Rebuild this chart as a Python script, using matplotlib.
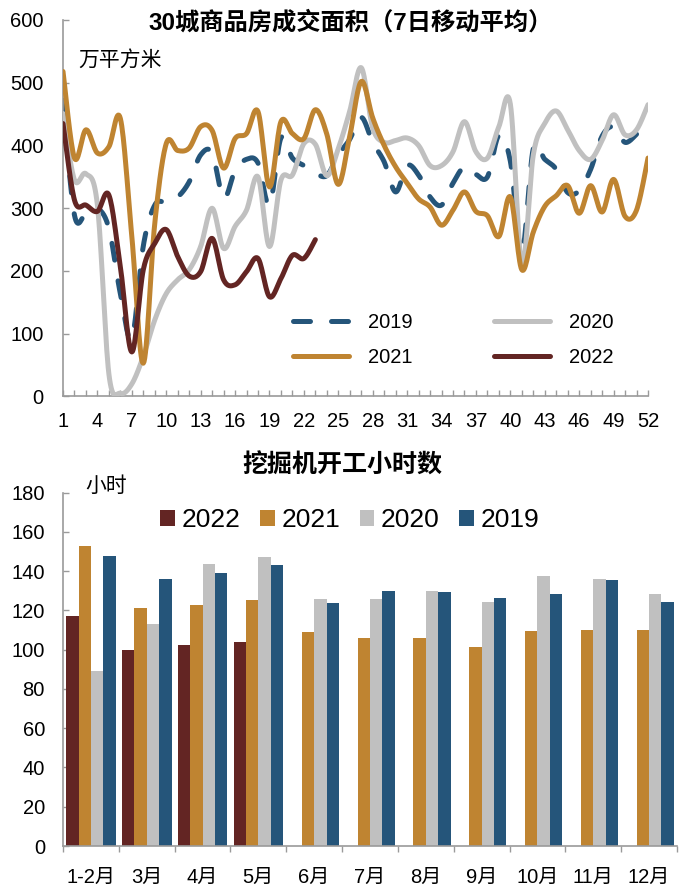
import numpy as np
import matplotlib
matplotlib.use("Agg")
import matplotlib.pyplot as plt
from matplotlib.patches import Patch

plt.rcParams['font.family'] = ['Liberation Sans', 'Noto Sans CJK SC']
plt.rcParams['axes.unicode_minus'] = False

# ---------------- data: top chart (weekly, 7-day moving average) ----------------
weeks = list(range(1, 53))
y2019 = [472, 289, 292, 300, 268, 164, 92, 240, 305, 310, 318, 342, 385, 388, 316, 360,
         378, 372, 305, 412, 380, 368, 356, 352, 385, 410, 445, 405, 374, 326, 368, 353,
         318, 305, 340, 366, 354, 350, 416, 375, 230, 395, 378, 362, 325, 328, 362, 415,
         430, 405, 418]
y2020 = [451, 345, 355, 305, 36, 5, 20, 64, 122, 164, 186, 202, 239, 300, 236, 271,
         297, 350, 239, 345, 353, 403, 402, 352, 395, 455, 524, 428, 405, 408, 412, 400,
         368, 368, 390, 438, 390, 380, 430, 466, 210, 385, 435, 455, 425, 392, 378, 408,
         449, 417, 425, 465]
y2021 = [518, 380, 425, 388, 398, 443, 255, 53, 276, 403, 392, 396, 430, 424, 364, 411,
         419, 454, 334, 438, 419, 411, 457, 418, 338, 415, 502, 444, 400, 366, 340, 315,
         302, 273, 297, 326, 295, 288, 255, 318, 202, 262, 303, 320, 336, 292, 336, 294,
         346, 287, 297, 380]
y2022 = [435, 313, 305, 295, 321, 207, 71, 202, 244, 266, 223, 192, 199, 252, 186, 178,
         199, 220, 159, 188, 225, 220, 250]
line_years = ['2019', '2020', '2021', '2022']

# ---------------- data: bottom chart (excavator working hours) ----------------
months = ['1-2月', '3月', '4月', '5月', '6月', '7月', '8月', '9月', '10月', '11月', '12月']
h2022 = [117, 100, 102.5, 104]
h2021 = [153, 121.5, 123, 125.5, 109, 106, 106, 101.5, 109.5, 110, 110]
h2020 = [89, 113, 143.5, 147, 126, 126, 130, 124.5, 137.5, 136.2, 128.5]
h2019 = [148, 136, 139, 143, 124, 130, 129.3, 126.5, 128.5, 135.5, 124.5]
bar_years = ['2022', '2021', '2020', '2019']

C_BLUE = '#25557A'
C_GREY = '#C0C0C0'
C_GOLD = '#BF8431'
C_RED = '#632523'
C_AX = '#9A9A9A'


def smooth(x, y, n=16):
    """Excel-like smoothed line (Catmull-Rom via cubic Bezier)."""
    P = np.column_stack([np.asarray(x, float), np.asarray(y, float)])
    P = np.vstack([P[0], P, P[-1]])
    t = np.linspace(0, 1, n, endpoint=False)[:, None]
    segs = []
    for i in range(1, len(P) - 2):
        p0, p1, p2, p3 = P[i - 1], P[i], P[i + 1], P[i + 2]
        c1 = p1 + (p2 - p0) / 6.0
        c2 = p2 - (p3 - p1) / 6.0
        segs.append((1 - t) ** 3 * p1 + 3 * (1 - t) ** 2 * t * c1 + 3 * (1 - t) * t ** 2 * c2 + t ** 3 * p2)
    segs.append(P[-2][None])
    S = np.vstack(segs)
    return S[:, 0], S[:, 1]


W, H = 695, 891
fig = plt.figure(figsize=(W / 100, H / 100), dpi=100)


def frac(l, r, top, bot):
    return [l / W, 1 - bot / H, (r - l) / W, (bot - top) / H]


# ================= top chart =================
ax1 = fig.add_axes(frac(63, 648, 20, 396.5))
series = [(y2019, C_BLUE, 'dash'), (y2020, C_GREY, 'solid'), (y2021, C_GOLD, 'solid'), (y2022, C_RED, 'solid')]
handles = []
for k, (vals, col, ls) in enumerate(series):
    xs, ys = smooth(weeks[:len(vals)], vals)
    if ls == 'dash':
        ln, = ax1.plot(xs, ys, color=col, lw=3.6, dashes=(3.4, 4.2), dash_capstyle='round', zorder=2 + k)
    else:
        ln, = ax1.plot(xs, ys, color=col, lw=3.6, solid_capstyle='round', zorder=2 + k)
    handles.append(ln)

ax1.set_xlim(1, 52)
ax1.set_ylim(0, 600)
ax1.set_xticks(weeks)
ax1.set_xticklabels([str(w) if (w - 1) % 3 == 0 else '' for w in weeks])
ax1.set_yticks(range(0, 601, 100))
ax1.tick_params(axis='x', direction='in', length=4.5, color=C_AX, width=1, labelsize=14.5, pad=11)
ax1.tick_params(axis='y', direction='in', length=4.5, color=C_AX, width=1, labelsize=14.5, pad=14)
for s in ['top', 'right']:
    ax1.spines[s].set_visible(False)
for s in ['left', 'bottom']:
    ax1.spines[s].set_color(C_AX)
    ax1.spines[s].set_linewidth(1.2)

order = [0, 2, 1, 3]
ax1.legend([handles[i] for i in order], [line_years[i] for i in order], ncol=2, loc='center',
           bbox_to_anchor=(0.667, 0.15), frameon=False, fontsize=14.5, handlelength=2.8,
           handletextpad=0.95, columnspacing=4.0, labelspacing=0.75, borderpad=0)

fig.text(351 / W, 1 - 23 / H, '30城商品房成交面积（7日移动平均）', ha='center', va='center',
         fontsize=17.5, fontweight='bold')
fig.text(78 / W, 1 - 60 / H, '万平方米', ha='left', va='center', fontsize=15)

# ================= bottom chart =================
ax2 = fig.add_axes(frac(63, 677, 492.7, 846))
x = np.arange(len(months))
bw = 1 / 4.5
bar_data = [h2022, h2021, h2020, h2019]
bar_cols = [C_RED, C_GOLD, C_GREY, C_BLUE]
for k, (vals, col) in enumerate(zip(bar_data, bar_cols)):
    ax2.bar(x[:len(vals)] + (k - 1.5) * bw, vals, width=bw, color=col, linewidth=0, zorder=2)

ax2.set_xlim(-0.5, len(months) - 0.5)
ax2.set_ylim(0, 180)
ax2.set_yticks(range(0, 181, 20))
ax2.set_xticks(x)
ax2.set_xticklabels(months)
ax2.set_xticks(np.arange(-0.5, len(months) + 0.5, 1), minor=True)
ax2.tick_params(axis='x', which='major', length=0, labelsize=14.5, pad=16)
ax2.tick_params(axis='x', which='minor', direction='out', length=4.5, color=C_AX, width=1)
ax2.tick_params(axis='y', direction='in', length=4.5, color=C_AX, width=1, labelsize=14.5, pad=13)
for s in ['top', 'right']:
    ax2.spines[s].set_visible(False)
for s in ['left', 'bottom']:
    ax2.spines[s].set_color(C_AX)
    ax2.spines[s].set_linewidth(1.2)

leg_handles = [Patch(facecolor=c, edgecolor='none') for c in bar_cols]
ax2.legend(leg_handles, bar_years, ncol=4, loc='center', bbox_to_anchor=(0.467, 0.923),
           frameon=False, fontsize=19, handlelength=0.55, handleheight=0.55,
           handletextpad=0.25, columnspacing=0.75, borderpad=0)

fig.text(342 / W, 1 - 466 / H, '挖掘机开工小时数', ha='center', va='center',
         fontsize=18, fontweight='bold')
fig.text(85 / W, 1 - 486 / H, '小时', ha='left', va='center', fontsize=15)

fig.savefig('out.png', dpi=100)
